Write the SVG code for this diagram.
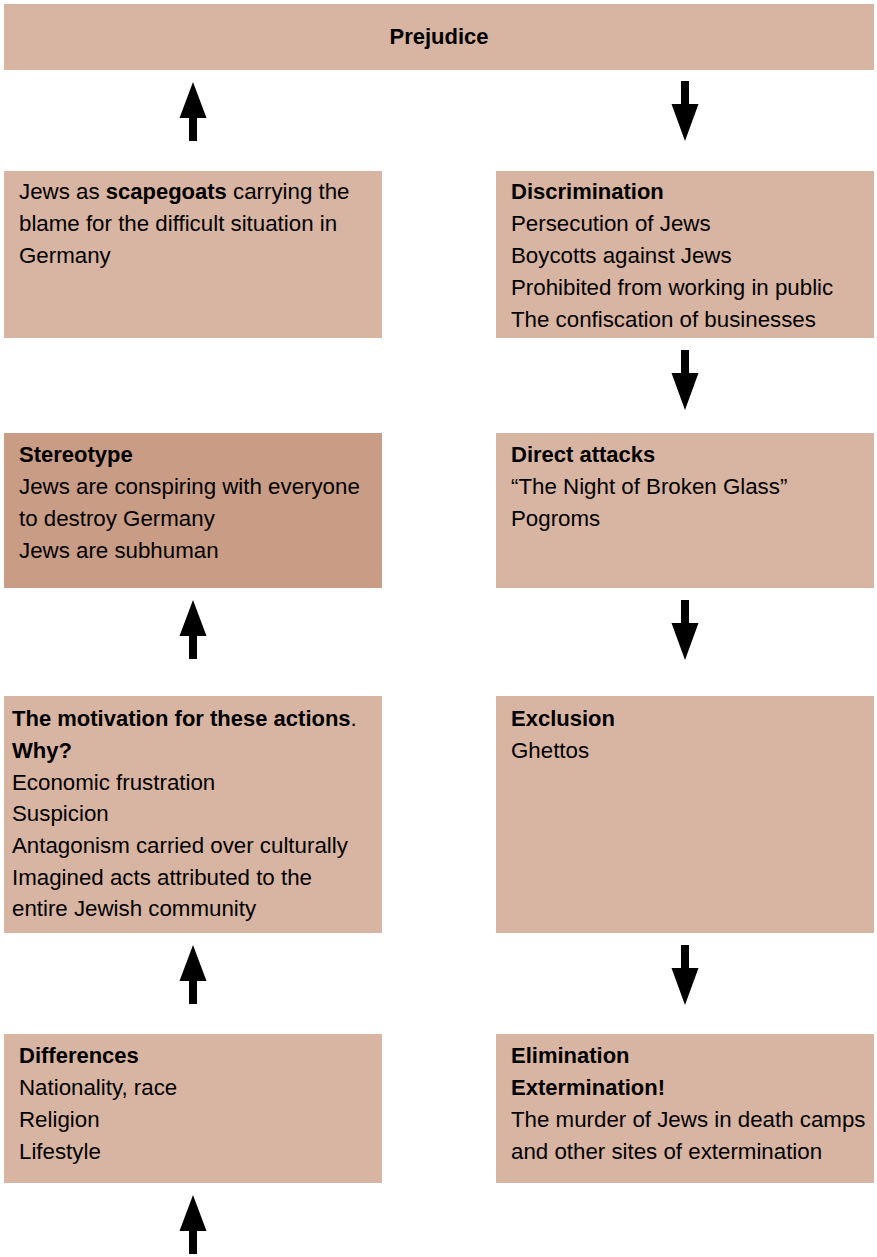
<svg xmlns="http://www.w3.org/2000/svg" xmlns:xlink="http://www.w3.org/1999/xlink" width="877" height="1257" viewBox="0 0 877 1257">
<style>
.box{fill:#d8b4a2;}
.dark{fill:#c99c86;}
text{font-family:"Liberation Sans",Arial,sans-serif;font-size:22.3px;fill:#000;}
.b{font-weight:bold;font-size:22px;}
</style>
<defs>
<polygon id="up" points="0,0 13.5,36 4,36 4,59 -4,59 -4,36 -13.5,36" fill="#000"/>
<polygon id="down" points="0,0 13.5,-37 4,-37 4,-60 -4,-60 -4,-37 -13.5,-37" fill="#000"/>
</defs>
<rect width="877" height="1257" fill="#fff"/>

<g id="prejudice">
<rect class="box" x="4" y="4" width="870" height="66"/>
<text x="439" y="44" text-anchor="middle" class="b">Prejudice</text>
</g>

<g id="scapegoats">
<rect class="box" x="4" y="171" width="378" height="167"/>
<text x="19" y="199">Jews as <tspan class="b">scapegoats</tspan> carrying the</text>
<text x="19" y="231">blame for the difficult situation in</text>
<text x="19" y="263">Germany</text>
</g>

<g id="discrimination">
<rect class="box" x="496" y="171" width="378" height="167"/>
<text x="511" y="199" class="b">Discrimination</text>
<text x="511" y="231">Persecution of Jews</text>
<text x="511" y="263">Boycotts against Jews</text>
<text x="511" y="295">Prohibited from working in public</text>
<text x="511" y="327">The confiscation of businesses</text>
</g>

<g id="stereotype">
<rect class="dark" x="4" y="433" width="378" height="155"/>
<text x="19" y="462" class="b">Stereotype</text>
<text x="19" y="494">Jews are conspiring with everyone</text>
<text x="19" y="526">to destroy Germany</text>
<text x="19" y="558">Jews are subhuman</text>
</g>

<g id="direct-attacks">
<rect class="box" x="496" y="433" width="378" height="155"/>
<text x="511" y="462" class="b">Direct attacks</text>
<text x="511" y="494">“The Night of Broken Glass”</text>
<text x="511" y="526">Pogroms</text>
</g>

<g id="motivation">
<rect class="box" x="4" y="696" width="378" height="237"/>
<text x="12" y="726"><tspan class="b">The motivation for these actions</tspan>.</text>
<text x="12" y="758" class="b">Why?</text>
<text x="12" y="789.5">Economic frustration</text>
<text x="12" y="821">Suspicion</text>
<text x="12" y="853">Antagonism carried over culturally</text>
<text x="12" y="884.5">Imagined acts attributed to the</text>
<text x="12" y="916">entire Jewish community</text>
</g>

<g id="exclusion">
<rect class="box" x="496" y="696" width="378" height="237"/>
<text x="511" y="726" class="b">Exclusion</text>
<text x="511" y="758">Ghettos</text>
</g>

<g id="differences">
<rect class="box" x="4" y="1034" width="378" height="149"/>
<text x="19" y="1063" class="b">Differences</text>
<text x="19" y="1095">Nationality, race</text>
<text x="19" y="1127">Religion</text>
<text x="19" y="1158.5">Lifestyle</text>
</g>

<g id="elimination">
<rect class="box" x="496" y="1034" width="378" height="149"/>
<text x="511" y="1063" class="b">Elimination</text>
<text x="511" y="1095" class="b">Extermination!</text>
<text x="511" y="1127">The murder of Jews in death camps</text>
<text x="511" y="1158.5">and other sites of extermination</text>
</g>

<g id="connectors">
<use xlink:href="#up" x="193" y="82"/>
<use xlink:href="#up" x="193" y="600"/>
<use xlink:href="#up" x="193" y="945"/>
<use xlink:href="#up" x="193" y="1195"/>
<use xlink:href="#down" x="685" y="141"/>
<use xlink:href="#down" x="685" y="410"/>
<use xlink:href="#down" x="685" y="660"/>
<use xlink:href="#down" x="685" y="1005"/>
</g>
</svg>
